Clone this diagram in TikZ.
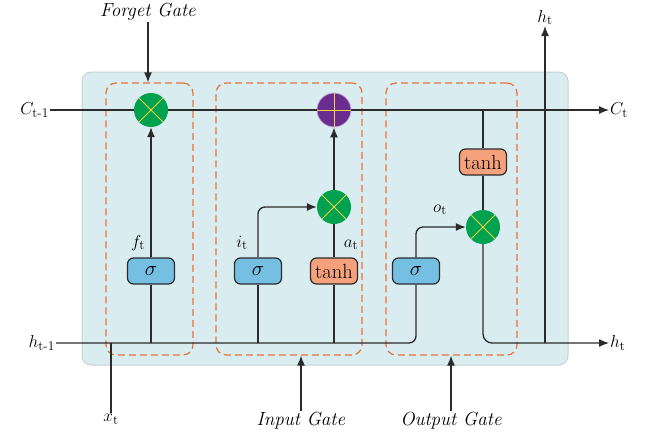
\documentclass[tikz,border=0pt]{standalone}
\usepackage{amsmath}
\usetikzlibrary{arrows.meta}
\definecolor{bgc}{HTML}{D9EDF0}
\definecolor{bgborder}{HTML}{C5D3D6}
\definecolor{dashc}{HTML}{E9743A}
\definecolor{mulg}{HTML}{00A24F}
\definecolor{plusp}{HTML}{6A2C8E}
\definecolor{crossy}{HTML}{F2D33A}
\definecolor{sigc}{HTML}{75BFE3}
\definecolor{tanc}{HTML}{F5A27C}
\definecolor{linec}{HTML}{2B2B2B}
\begin{document}
\begin{tikzpicture}[x=1pt,y=-1pt,font=\fontsize{19}{22}\selectfont,
  ln/.style={draw=linec,line width=1.3pt},
  arr/.style={ln,-{Latex[length=10pt,width=8pt]}},
  gatebox/.style={draw=dashc,line width=1.2pt,dash pattern=on 7pt off 4pt,rounded corners=10pt,inner sep=0pt},
  mulnode/.style={circle,fill=mulg,minimum size=34pt,inner sep=0pt,
    path picture={\draw[crossy,line width=0.9pt]
      (path picture bounding box.north west)--(path picture bounding box.south east)
      (path picture bounding box.north east)--(path picture bounding box.south west);}},
  plusnode/.style={circle,fill=plusp,draw=plusp!40!white,line width=0.8pt,minimum size=34pt,inner sep=0pt,
    path picture={\draw[crossy,line width=0.9pt]
      (path picture bounding box.north)--(path picture bounding box.south)
      (path picture bounding box.east)--(path picture bounding box.west);}},
  actbox/.style={draw=linec,line width=1.2pt,rounded corners=6pt,minimum width=47pt,minimum height=26pt,inner sep=0pt},
  sigbox/.style={actbox,fill=sigc,font=\fontsize{20}{22}\selectfont},
  tanbox/.style={actbox,fill=tanc,font=\fontsize{20.5}{22}\selectfont},
  lbl/.style={inner sep=1pt}
]
\useasboundingbox (0,0) rectangle (653,439);
% cell background
\draw[fill=bgc,draw=bgborder,line width=1pt,rounded corners=9pt] (82,72) rectangle (568,365);
% gate boxes
\node[gatebox,minimum width=87pt,minimum height=272pt] (fg) at (149.5,219) {};
\node[gatebox,minimum width=146pt,minimum height=272pt] (ig) at (289,219) {};
\node[gatebox,minimum width=131pt,minimum height=272pt] (og) at (451.5,219) {};
% operators
\node[mulnode] (fmul) at (151,110) {};
\node[plusnode] (plus) at (334,110) {};
\node[mulnode] (imul) at (334,207) {};
\node[mulnode] (omul) at (483,227) {};
% activation boxes
\node[sigbox] (fsig) at (151,271) {$\sigma$};
\node[sigbox] (isig) at (258,271) {$\sigma$};
\node[tanbox] (itanh) at (334,271) {tanh};
\node[sigbox] (osig) at (416,271) {$\sigma$};
\node[tanbox] (otanh) at (483,162) {tanh};
% labels
\node[lbl] (fglbl) at (148,12) {\textit{Forget Gate}};
\node[lbl] (iglbl) at (301,421) {\textit{Input Gate}};
\node[lbl] (oglbl) at (451,421) {\textit{Output Gate}};
\node[lbl,anchor=east] (ctm1) at (50,110) {$C_{\text{t-1}}$};
\node[lbl,anchor=west] (ct) at (609,110) {$C_{\text{t}}$};
\node[lbl,anchor=east] (htm1) at (56,343) {$h_{\text{t-1}}$};
\node[lbl,anchor=west] (ht) at (609,343) {$h_{\text{t}}$};
\node[lbl,anchor=south] (httop) at (545,26) {$h_{\text{t}}$};
\node[lbl,anchor=north] (xt) at (111,413) {$x_{\text{t}}$};
\node[lbl] (ft) at (138,243) {$f_{\text{t}}$};
\node[lbl] (it) at (242,243) {$i_{\text{t}}$};
\node[lbl] (at) at (351,245) {$a_{\text{t}}$};
\node[lbl] (ot) at (440,210) {$o_{\text{t}}$};
\coordinate (hv) at (545,343);
% cell state line
\draw[ln] (ctm1.east) -- (fmul.west);
\draw[ln] (fmul.east) -- (plus.west);
\draw[arr] (plus.east) -- (ct.west);
% hidden input line
\draw[ln,rounded corners=7pt] (htm1.east) -- (osig.south |- htm1.east) -- (osig.south);
% forget gate
\draw[ln] (fsig.south) -- (fsig.south |- htm1.east);
\draw[arr] (fsig.north) -- (fmul.south);
% input gate
\draw[ln] (isig.south) -- (isig.south |- htm1.east);
\draw[arr,rounded corners=7pt] (isig.north) |- (imul.west);
\draw[ln] (itanh.south) -- (itanh.south |- htm1.east);
\draw[ln] (itanh.north) -- (imul.south);
\draw[arr] (imul.north) -- (plus.south);
% output gate
\draw[arr,rounded corners=7pt] (osig.north) |- (omul.west);
\draw[ln] (otanh.north |- plus.east) -- (otanh.north);
\draw[ln] (otanh.south) -- (omul.north);
\draw[arr,rounded corners=9pt] (omul.south) |- (ht.west);
\draw[arr] (hv) -- (httop.south);
% x_t input
\draw[ln] (xt.north) -- (xt.north |- htm1.east);
% gate pointers
\draw[arr] (fglbl.south) -- (fglbl.south |- fg.north);
\draw[arr] (iglbl.north) -- (iglbl.north |- ig.south);
\draw[arr] (oglbl.north) -- (oglbl.north |- og.south);
\end{tikzpicture}
\end{document}
